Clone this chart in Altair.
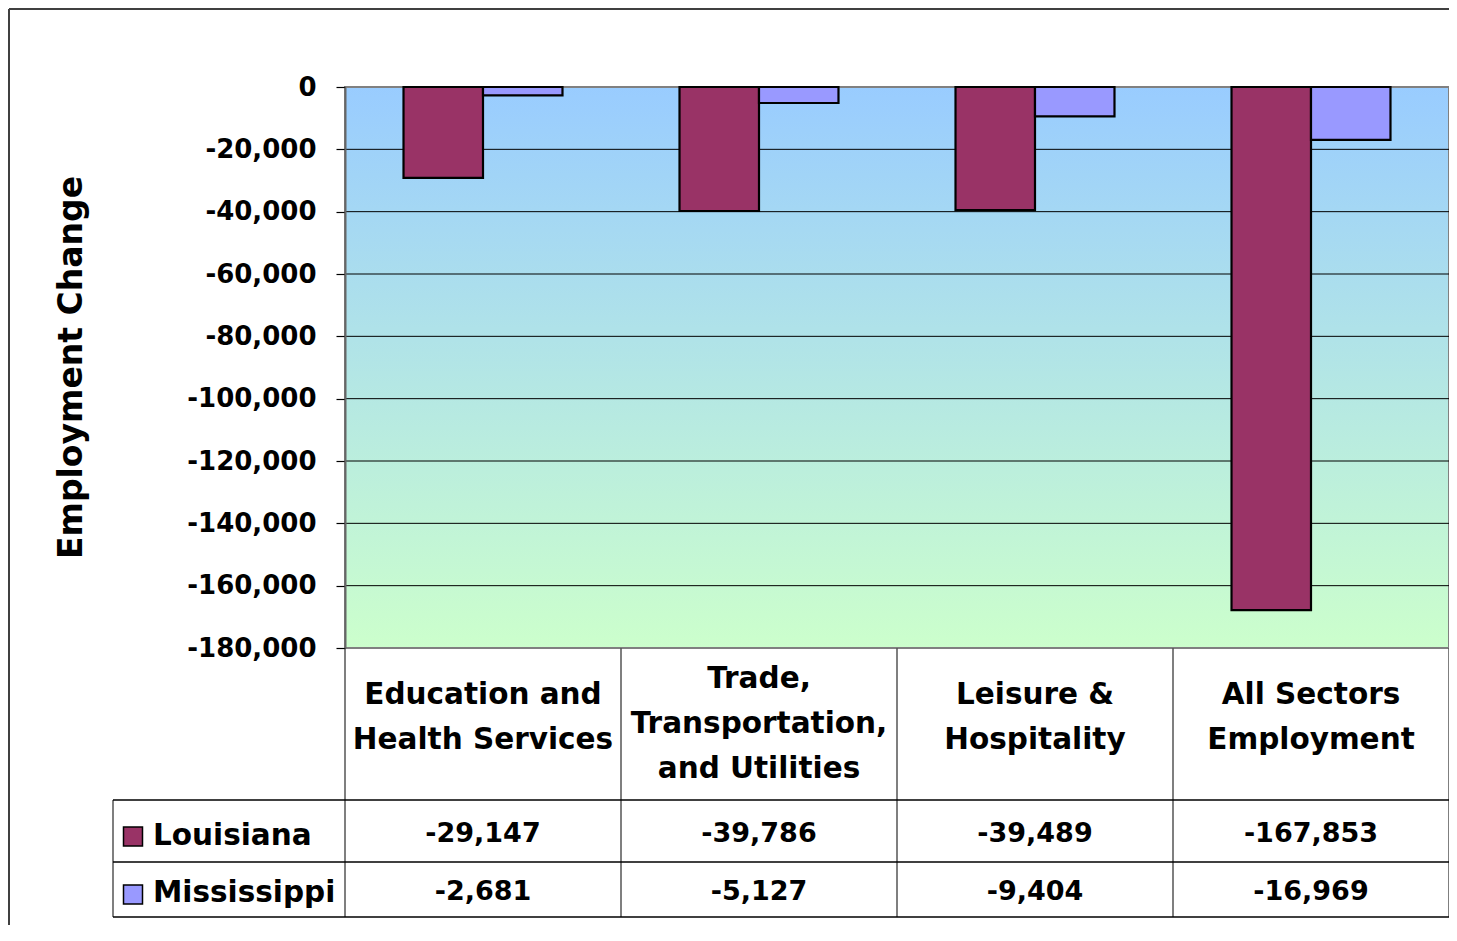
import altair as alt
import pandas as pd

# ---------------- data ----------------
categories = [
    "Education and Health Services",
    "Trade, Transportation, and Utilities",
    "Leisure & Hospitality",
    "All Sectors Employment",
]
header_labels = [
    "Education and\nHealth Services",
    "Trade,\nTransportation,\nand Utilities",
    "Leisure &\nHospitality",
    "All Sectors\nEmployment",
]
series = ["Louisiana", "Mississippi"]
louisiana = [-29147, -39786, -39489, -167853]
mississippi = [-2681, -5127, -9404, -16969]
colors = ["#993366", "#9999FF"]
y_ticks = [0, -20000, -40000, -60000, -80000, -100000, -120000, -140000, -160000, -180000]

rows = []
for s, vals in zip(series, [louisiana, mississippi]):
    for c, h, v in zip(categories, header_labels, vals):
        rows.append({"category": c, "header": h, "series": s, "value": v, "label": f"{v:,}"})
df = pd.DataFrame(rows)
df_cat = pd.DataFrame({"category": categories, "header": header_labels,
                       "nlines": [h.count("\n") + 1 for h in header_labels]})
df_grid = pd.DataFrame({"value": y_ticks[1:-1]})
one = pd.DataFrame({"k": [0]})

FONT = "DejaVu Sans"
W, H = 1104, 561

x_enc = alt.X("category:N", sort=categories, axis=None,
              scale=alt.Scale(paddingInner=0.424, paddingOuter=0.212))
color_scale = alt.Scale(domain=series, range=colors)

# background gradient
bg = alt.Chart(one).mark_rect(
    fill=alt.LinearGradient(
        gradient="linear",
        stops=[alt.GradientStop(color="#99CCFF", offset=0),
               alt.GradientStop(color="#CCFFCC", offset=1)],
        x1=0, x2=0, y1=0, y2=1),
    stroke="#808080", strokeWidth=2,
).encode(x=alt.value(0), x2=alt.value(W), y=alt.value(0), y2=alt.value(H))

grid = alt.Chart(df_grid).mark_rule(color="#000000", strokeWidth=1).encode(
    y=alt.Y("value:Q")
)

bars = alt.Chart(df).mark_bar(stroke="black", strokeWidth=2.2, opacity=1).encode(
    x=x_enc,
    xOffset=alt.XOffset("series:N", sort=series,
                        scale=alt.Scale(paddingInner=0, paddingOuter=0)),
    y=alt.Y("value:Q",
            scale=alt.Scale(domain=[-180000, 0], nice=False),
            axis=alt.Axis(values=y_ticks, title=None, grid=False,
                          labelExpr="replace(format(datum.value, ',d'), '\u2212', '-')",
                          labelFont=FONT, labelFontWeight="bold", labelFontSize=26,
                          labelColor="black", labelPadding=20,
                          tickSize=9, tickColor="black", tickWidth=1.2,
                          domainColor="#666666", domainWidth=2, zindex=1)),
    color=alt.Color("series:N", scale=color_scale, legend=None),
)

y_title = alt.Chart(one).mark_text(
    text="Employment Change", angle=270, font=FONT, fontWeight="bold",
    fontSize=33, align="center", baseline="middle", color="black",
).encode(x=alt.value(-273), y=alt.value(H / 2))

layers = [bg, grid, bars, y_title]

# category header row (first-line baseline depends on the number of lines)
for n, first_baseline in [(2, 617), (3, 601)]:
    layers.append(
        alt.Chart(df_cat).transform_filter(f"datum.nlines == {n}").mark_text(
            font=FONT, fontWeight="bold", fontSize=29.5, lineBreak="\n", lineHeight=45,
            align="center", baseline="alphabetic", color="black",
        ).encode(x=x_enc, y=alt.value(first_baseline), text="header:N")
    )

value_baselines = [755, 813]
legend_baselines = [758, 815]
square_centers = [749.5, 807.5]
for i, s in enumerate(series):
    sub = df[df["series"] == s]
    layers.append(
        alt.Chart(sub).mark_text(
            font=FONT, fontWeight="bold", fontSize=27, align="center",
            baseline="alphabetic", color="black",
        ).encode(x=x_enc, y=alt.value(value_baselines[i]), text="label:N")
    )
    layers.append(
        alt.Chart(pd.DataFrame({"series": [s]})).mark_text(
            font=FONT, fontWeight="bold", fontSize=29.5, align="left",
            baseline="alphabetic", color="black",
        ).encode(x=alt.value(-192), y=alt.value(legend_baselines[i]), text="series:N")
    )
    layers.append(
        alt.Chart(pd.DataFrame({"series": [s]})).mark_square(
            size=361, stroke="black", strokeWidth=1.5, opacity=1, filled=True,
        ).encode(x=alt.value(-212), y=alt.value(square_centers[i]),
                 color=alt.Color("series:N", scale=color_scale, legend=None))
    )


def line(x1, x2, y1, y2, color="black", width=1.5):
    return alt.Chart(one).mark_rule(color=color, strokeWidth=width).encode(
        x=alt.value(x1), x2=alt.value(x2), y=alt.value(y1), y2=alt.value(y2))


# table grid
for xv in [0, W / 4, W / 2, 3 * W / 4, W]:
    layers.append(line(xv, xv, H, 830, color="#555555", width=1.5))
layers.append(line(-232, -232, 713, 830, color="#555555", width=1.5))
for yv in [713, 775, 830]:
    layers.append(line(-232, W, yv, yv, color="black", width=1.5))

# outer chart border
layers.append(line(-336, W, -78, -78, color="#404040", width=2))
layers.append(line(-336, -336, -78, 840, color="#404040", width=2))

chart = alt.layer(*layers).properties(
    width=W, height=H,
    autosize=alt.AutoSizeParams(type="none"),
    padding={"left": 337, "top": 79, "right": 0, "bottom": 277},
).configure_view(stroke=None).configure(background="white")

chart.save("out.html", embed_options={"renderer": "svg", "actions": False})
